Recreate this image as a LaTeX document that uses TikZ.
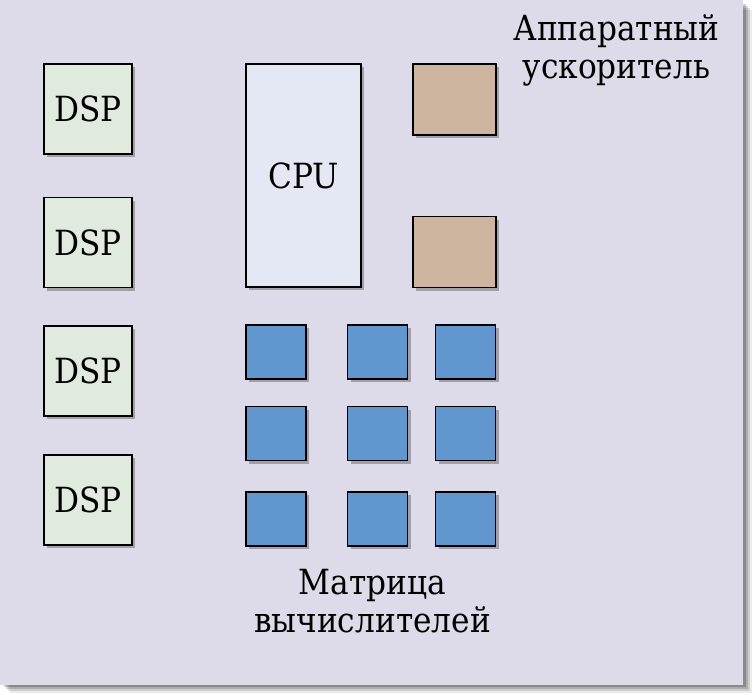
\documentclass[tikz,border=0pt]{standalone}
\usepackage{fontspec}
\setmainfont[FakeStretch=0.9]{DejaVu Serif}
\usetikzlibrary{shadows}

\definecolor{bgcol}{RGB}{221,219,233}
\definecolor{dspcol}{RGB}{225,234,223}
\definecolor{cpucol}{RGB}{228,232,245}
\definecolor{acccol}{RGB}{205,181,160}
\definecolor{pecol}{RGB}{97,150,206}

\begin{document}
\begin{tikzpicture}[x=0.75pt,y=0.75pt,yscale=-1,xscale=1,
  lbl/.style={font=\fontsize{26}{28.5}\selectfont, inner sep=0pt},
  blk/.style={draw=black, line width=1pt, inner sep=0pt, lbl,
    drop shadow={shadow xshift=2.5pt, shadow yshift=-2.5pt, opacity=0.35, fill=black!80}},
  dspbox/.style={blk, fill=dspcol, minimum width=66pt, minimum height=67.5pt},
  cpubox/.style={blk, fill=cpucol, minimum width=86.25pt, minimum height=167.25pt},
  accbox/.style={blk, fill=acccol, minimum width=62.25pt, minimum height=53.25pt},
  pebox/.style={blk, fill=pecol, minimum width=45pt, minimum height=40.5pt}]
\useasboundingbox (0,0) rectangle (754,695);

%Background with soft shadow
\foreach \d/\op in {10/0.08,8/0.12,6/0.16,4/0.2}
  \fill [black, opacity=\op] (\d,\d) rectangle (743+\d-1,685+\d-2) ;
\fill [bgcol] (0,0) rectangle (743,685) ;

%DSP column
\node [dspbox] (dsp1) at (88,109) {DSP};
\node [dspbox] (dsp2) at (88,242.5) {DSP};
\node [dspbox] (dsp3) at (88,371) {DSP};
\node [dspbox] (dsp4) at (88,500) {DSP};

%CPU
\node [cpubox] (cpu) at (303.5,175.5) {CPU};

%Accelerator blocks
\node [accbox] (acc1) at (454.5,99.5) {};
\node [accbox] (acc2) at (454.5,252) {};

%Processing elements
\node [pebox] (pe11) at (276,352) {};
\node [pebox] (pe12) at (377.5,352) {};
\node [pebox] (pe13) at (465.5,352) {};
\node [pebox] (pe21) at (276,433.5) {};
\node [pebox] (pe22) at (377.5,433.5) {};
\node [pebox] (pe23) at (465.5,433.5) {};
\node [pebox] (pe31) at (276,519) {};
\node [pebox] (pe32) at (377.5,519) {};
\node [pebox] (pe33) at (465.5,519) {};

% Text Node
\node [lbl, align=center] (acctext) at (616.5,50) {Аппаратный\\ускоритель};
% Text Node
\node [lbl, align=center] (petext) at (372.5,601) {Матрица\\вычислителей};
\end{tikzpicture}
\end{document}
